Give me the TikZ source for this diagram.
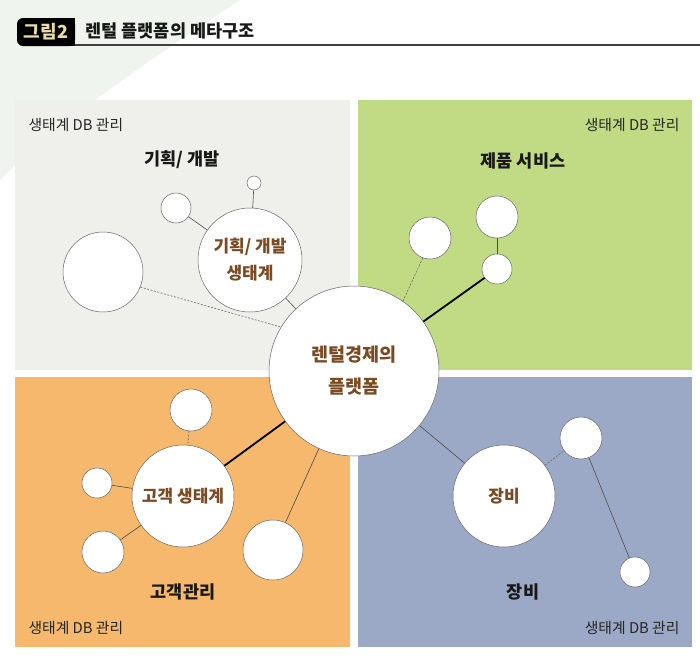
\documentclass[tikz,border=0pt]{standalone}
\usepackage{fontspec}
\setmainfont{Noto Sans CJK KR}
\definecolor{swoosh}{HTML}{F0F4EE}
\definecolor{qgray}{HTML}{EFEFEC}
\definecolor{qgreen}{HTML}{C1DA84}
\definecolor{qorange}{HTML}{F5B86C}
\definecolor{qblue}{HTML}{9CA9C6}
\definecolor{brownt}{HTML}{7A4A22}
\definecolor{cream}{HTML}{E9DCA6}
\begin{document}
\begin{tikzpicture}[x=1pt,y=-1pt,
  bub/.style={circle,draw=black!60,line width=0.5pt,fill=white,inner sep=0pt},
  conn/.style={draw=black!70,line width=0.6pt},
  dconn/.style={draw=black!60,line width=0.6pt,dash pattern=on 2pt off 1.5pt},
  thk/.style={draw=black,line width=1.8pt},
  btxt/.style={text=brownt,font=\bfseries\fontsize{17}{27}\selectfont,align=center},
  lab/.style={font=\bfseries\fontsize{17.5}{20}\selectfont,text=black!90},
  db/.style={font=\fontsize{14.8}{16}\selectfont,text=black!85}]
\useasboundingbox (0,0) rectangle (700,659);
\fill[white] (0,0) rectangle (700,659);
\fill[swoosh] (0,0) -- (240,0) .. controls (150,60) and (60,120) .. (0,180) -- cycle;
% quadrants
\fill[qgray] (15,100) rectangle (350,370);
\fill[qgreen] (358,100) rectangle (692,370);
\fill[qorange] (15,377) rectangle (350,647);
\fill[qblue] (358,377) rectangle (692,647);
% title
\fill[black,rounded corners=6pt] (17,18) rectangle (75,46);
\fill[black] (62,18) rectangle (75,46);
\draw[line width=1.8pt,black!75] (75,45) -- (700,45);
\node[text=cream,font=\bfseries\fontsize{18}{20}\selectfont] (tab) at (46,32) {그림2};
\node[anchor=west,font=\bfseries\fontsize{17.5}{20}\selectfont,text=black!90] (title) at (82,31) {렌털 플랫폼의 메타구조};
% DB labels
\node[db,anchor=west] (db1) at (25,125) {생태계 DB 관리};
\node[db,anchor=east] (db2) at (683,125) {생태계 DB 관리};
\node[db,anchor=west] (db3) at (25,628) {생태계 DB 관리};
\node[db,anchor=east] (db4) at (683,628) {생태계 DB 관리};
% quadrant titles
\node[lab] (t1) at (182,160) {기획/ 개발};
\node[lab] (t2) at (523,161) {제품 서비스};
\node[lab] (t3) at (183,592) {고객관리};
\node[lab] (t4) at (523,592) {장비};
% center
\node[bub,minimum size=170pt,btxt,font=\bfseries\fontsize{18.5}{32}\selectfont] (ctr) at (354,371) {렌털경제의\\플랫폼};
% gray quadrant
\node[bub,minimum size=104pt,btxt] (plan) at (250,260) {기획/ 개발\\생태계};
\node[bub,minimum size=14pt] (p1) at (254,183) {};
\node[bub,minimum size=30pt] (p2) at (176,208) {};
\node[bub,minimum size=80pt] (p3) at (103,272) {};
\draw[conn] (p1) -- (plan);
\draw[conn] (p2) -- (plan);
\draw[conn] (plan) -- (ctr);
\draw[dconn] (p3.-22) -- (ctr.149);
% green quadrant
\node[bub,minimum size=42pt] (g1) at (430,238) {};
\node[bub,minimum size=42pt] (g2) at (497,217) {};
\node[bub,minimum size=30pt] (g3) at (497,269) {};
\draw[conn] (g2) -- (g3);
\draw[thk] (g3) -- (ctr);
\draw[dconn] (g1.-110) -- (ctr.55);
% orange quadrant
\node[bub,minimum size=102pt,btxt] (cust) at (183,496) {고객 생태계};
\node[bub,minimum size=42pt] (o1) at (191,410) {};
\node[bub,minimum size=30pt] (o2) at (97,483) {};
\node[bub,minimum size=42pt] (o3) at (103,552) {};
\node[bub,minimum size=60pt] (o4) at (273,550) {};
\draw[dconn] (o1) -- (cust);
\draw[conn] (o2) -- (cust);
\draw[conn] (o3) -- (cust);
\draw[thk] (cust) -- (ctr);
\draw[conn] (o4) -- (ctr);
% blue quadrant
\node[bub,minimum size=102pt,btxt] (equip) at (504,496) {장비};
\node[bub,minimum size=42pt] (b1) at (581,438) {};
\node[bub,minimum size=30pt] (b2) at (635,572) {};
\draw[conn] (ctr) -- (equip);
\draw[dconn] (equip) -- (b1);
\draw[conn] (b1) -- (b2);
\end{tikzpicture}
\end{document}
